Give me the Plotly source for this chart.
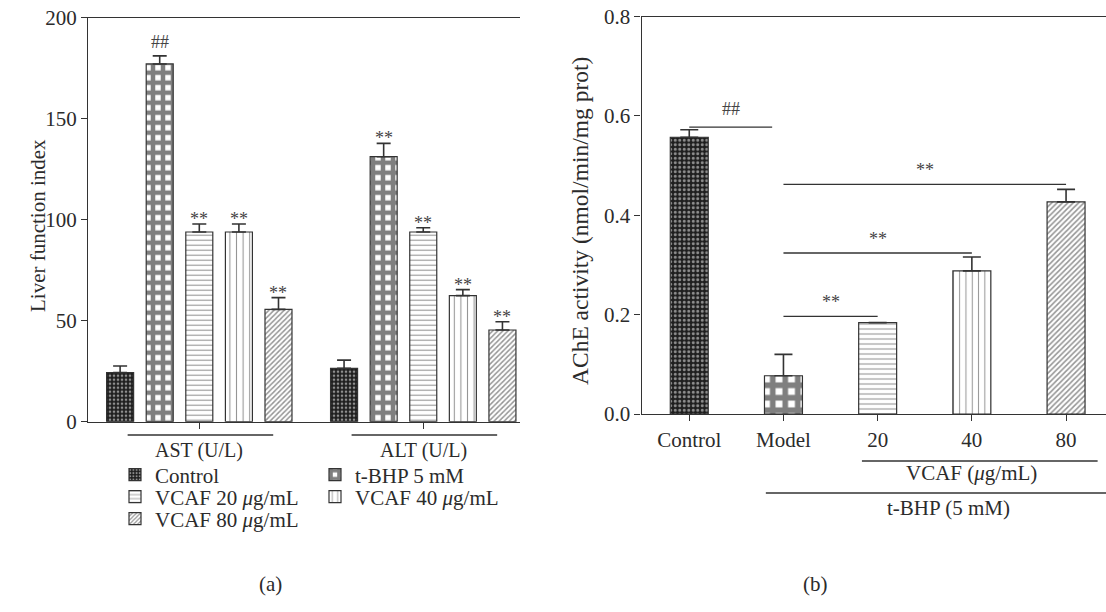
import plotly.graph_objects as go

# ---------------- data ----------------
groups = ["AST (U/L)", "ALT (U/L)"]
series_names = ["Control", "t-BHP 5 mM", "VCAF 20 <i>μ</i>g/mL",
                "VCAF 40 <i>μ</i>g/mL", "VCAF 80 <i>μ</i>g/mL"]
control_vals = [24.3, 26.4]
tbhp_vals = [177.1, 131.2]
vcaf20_vals = [93.9, 93.9]
vcaf40_vals = [93.9, 62.4]
vcaf80_vals = [55.6, 45.4]
control_err = [3.3, 4.1]
tbhp_err = [4.0, 6.6]
vcaf20_err = [4.0, 2.1]
vcaf40_err = [4.0, 3.0]
vcaf80_err = [5.8, 4.1]
control_sig = ["", ""]
tbhp_sig = ["##", "**"]
vcaf20_sig = ["**", "**"]
vcaf40_sig = ["**", "**"]
vcaf80_sig = ["**", "**"]

ache_cats = ["Control", "Model", "20", "40", "80"]
ache_vals = [0.557, 0.077, 0.184, 0.288, 0.427]
ache_err = [0.015, 0.043, 0.0, 0.028, 0.025]
# comparison brackets: (from category index, to category index, height, label)
ache_comparisons = [(0, 0.88, 0.5775, "##"), (1, 2, 0.1964, "**"),
                    (1, 3, 0.324, "**"), (1, 4, 0.462, "**")]

left_yticks = [0, 50, 100, 150, 200]
right_yticks = [0.0, 0.2, 0.4, 0.6, 0.8]

# ---------------- styles ----------------
FONT = "Liberation Serif"
FS = 21
INK = "#2b2b2b"
LINE = "#333333"
W, H = 1106, 612

patterns = [
    dict(shape=".", bgcolor="#1e1e1e", fgcolor="white", size=4, solidity=0.35),
    dict(shape="+", bgcolor="white", fgcolor="#000000", size=10, solidity=0.7),
    dict(shape="-", bgcolor="white", fgcolor="#2b2b2b", size=5, solidity=0.22),
    dict(shape="|", bgcolor="white", fgcolor="#2b2b2b", size=6.6, solidity=0.16),
    dict(shape="/", bgcolor="white", fgcolor="#2b2b2b", size=3.6, solidity=0.42),
]
# legend placement (pixel positions of each entry: left edge, row centre)
legend_ids = ["legend", "legend2", "legend3", "legend4", "legend5"]
legend_px = [(115, 475), (315, 475), (115, 497), (315, 497), (115, 519)]

all_vals = [control_vals, tbhp_vals, vcaf20_vals, vcaf40_vals, vcaf80_vals]
all_errs = [control_err, tbhp_err, vcaf20_err, vcaf40_err, vcaf80_err]
all_sigs = [control_sig, tbhp_sig, vcaf20_sig, vcaf40_sig, vcaf80_sig]

fig = go.Figure()

BARGAP = 0.116
BARGROUPGAP = 0.318
for i, name in enumerate(series_names):
    fig.add_trace(go.Bar(
        x=groups, y=all_vals[i], name=name, xaxis="x", yaxis="y",
        marker=dict(color="white", line=dict(color=LINE, width=1.2),
                    pattern=patterns[i]),
        error_y=dict(type="data", array=all_errs[i], arrayminus=[0] * len(groups),
                     symmetric=False, color=LINE, thickness=1.6, width=7),
        legend=legend_ids[i],
    ))

# right panel: one trace, per-bar patterns
fig.add_trace(go.Bar(
    x=ache_cats, y=ache_vals, xaxis="x2", yaxis="y2", showlegend=False,
    width=0.403, offset=-0.2015,
    marker=dict(color="white", line=dict(color=LINE, width=1.2),
                pattern=dict(shape=[p["shape"] for p in patterns],
                             bgcolor=[p["bgcolor"] for p in patterns],
                             fgcolor=[p["fgcolor"] for p in patterns],
                             size=[4.5, 12.5, 5, 6.3, 3.8],
                             solidity=[0.35, 0.7, 0.22, 0.16, 0.42])),
    error_y=dict(type="data", array=ache_err, arrayminus=[0] * len(ache_cats),
                 symmetric=False, color=LINE, thickness=1.6, width=9),
))

annotations = []
shapes = []

# significance marks, left panel
slot = (1 - BARGAP) / len(series_names)
for i in range(len(series_names)):
    for g in range(len(groups)):
        txt = all_sigs[i][g]
        if not txt:
            continue
        xpos = g + (i - (len(series_names) - 1) / 2) * slot
        annotations.append(dict(
            x=xpos, y=all_vals[i][g] + all_errs[i][g], xref="x", yref="y",
            text=txt, showarrow=False, yanchor="bottom",
            yshift=-7 if txt == "**" else 2,
            font=dict(family=FONT, size=18, color="#444")))

# group underlines and labels, left panel
for g, label in enumerate(groups):
    shapes.append(dict(type="line", xref="x", yref="paper",
                       x0=g - 0.32, x1=g + 0.33, y0=1 - 435 / H, y1=1 - 435 / H,
                       line=dict(color=LINE, width=1.3)))
    annotations.append(dict(x=g, y=1 - 450 / H, xref="x", yref="paper",
                            text=label, showarrow=False, yanchor="middle",
                            font=dict(family=FONT, size=20, color=INK)))

# comparison brackets, right panel
for a, b, h, txt in ache_comparisons:
    shapes.append(dict(type="line", xref="x2", yref="y2", x0=a, x1=b, y0=h, y1=h,
                       line=dict(color=LINE, width=1.3)))
    annotations.append(dict(x=(a + b) / 2, y=h, xref="x2", yref="y2", text=txt,
                            showarrow=False, yanchor="bottom",
                            yshift=2 if txt == "**" else 6,
                            font=dict(family=FONT, size=18, color="#444")))

# treatment grouping lines, right panel
shapes.append(dict(type="line", xref="x2", yref="paper", x0=1.833, x1=4.335,
                   y0=1 - 461 / H, y1=1 - 461 / H, line=dict(color=LINE, width=1.3)))
annotations.append(dict(x=3.0, y=1 - 473 / H, xref="x2", yref="paper",
                        text="VCAF (<i>μ</i>g/mL)", showarrow=False, yanchor="middle",
                        font=dict(family=FONT, size=FS, color=INK)))
shapes.append(dict(type="line", xref="x2", yref="paper", x0=0.813, x1=4.424,
                   y0=1 - 493 / H, y1=1 - 493 / H, line=dict(color=LINE, width=1.3)))
annotations.append(dict(x=2.75, y=1 - 508 / H, xref="x2", yref="paper",
                        text="t-BHP (5 mM)", showarrow=False, yanchor="middle",
                        font=dict(family=FONT, size=FS, color=INK)))

# axis titles
annotations.append(dict(x=38 / W, y=1 - 226 / H, xref="paper", yref="paper",
                        text="Liver function index", textangle=-90, showarrow=False,
                        xanchor="center", yanchor="middle",
                        font=dict(family=FONT, size=FS, color=INK)))
annotations.append(dict(x=580 / W, y=1 - 221 / H, xref="paper", yref="paper",
                        text="AChE activity (nmol/min/mg prot)", textangle=-90,
                        showarrow=False, xanchor="center", yanchor="middle",
                        font=dict(family=FONT, size=23.5, color=INK)))
# panel labels
annotations.append(dict(x=257 / W, y=1 - 598 / H, xref="paper", yref="paper",
                        text="(a)", showarrow=False,
                        font=dict(family=FONT, size=FS, color=INK)))
annotations.append(dict(x=830 / W, y=1 - 598 / H, xref="paper", yref="paper",
                        text="(b)", showarrow=False,
                        font=dict(family=FONT, size=FS, color=INK)))

axis_common = dict(showline=True, linecolor=LINE, linewidth=1.3, ticks="outside",
                   ticklen=6, tickwidth=1.3, tickcolor=LINE, showgrid=False,
                   zeroline=False, automargin=False,
                   tickfont=dict(family=FONT, size=FS, color=INK))

legends = {}
for lid, (lx, ly) in zip(legend_ids, legend_px):
    legends[lid] = dict(x=lx / W, y=1 - ly / H, xanchor="left", yanchor="middle",
                        orientation="v", bgcolor="rgba(0,0,0,0)",
                        borderwidth=0, tracegroupgap=0,
                        font=dict(family=FONT, size=FS, color=INK))

fig.update_layout(
    width=W, height=H,
    margin=dict(l=0, r=0, t=0, b=0, autoexpand=False),
    paper_bgcolor="white", plot_bgcolor="white",
    barmode="group", bargap=BARGAP, bargroupgap=BARGROUPGAP,
    font=dict(family=FONT, size=FS, color=INK),
    xaxis=dict(domain=[88 / W, 520 / W], anchor="y", type="category",
               range=[-0.497, 1.432], mirror=True, showticklabels=False,
               **axis_common),
    yaxis=dict(domain=[1 - 421.7 / H, 1 - 17.7 / H], anchor="x",
               range=[0, 200], tickvals=left_yticks, **axis_common),
    xaxis2=dict(domain=[641.5 / W, 1.0], anchor="y2", type="category",
                range=[-0.507, 4.424], mirror=True, ticklabelstandoff=1,
                **axis_common),
    yaxis2=dict(domain=[1 - 414 / H, 1 - 16.5 / H], anchor="x2",
                range=[0, 0.8], tickvals=right_yticks, tickformat=".1f",
                **axis_common),
    annotations=annotations,
    shapes=shapes,
    **legends,
)

fig.write_html("out.html",
               config={"displayModeBar": False},
               post_script="document.body.style.margin='0px';"
                           "document.body.style.overflow='hidden';")
